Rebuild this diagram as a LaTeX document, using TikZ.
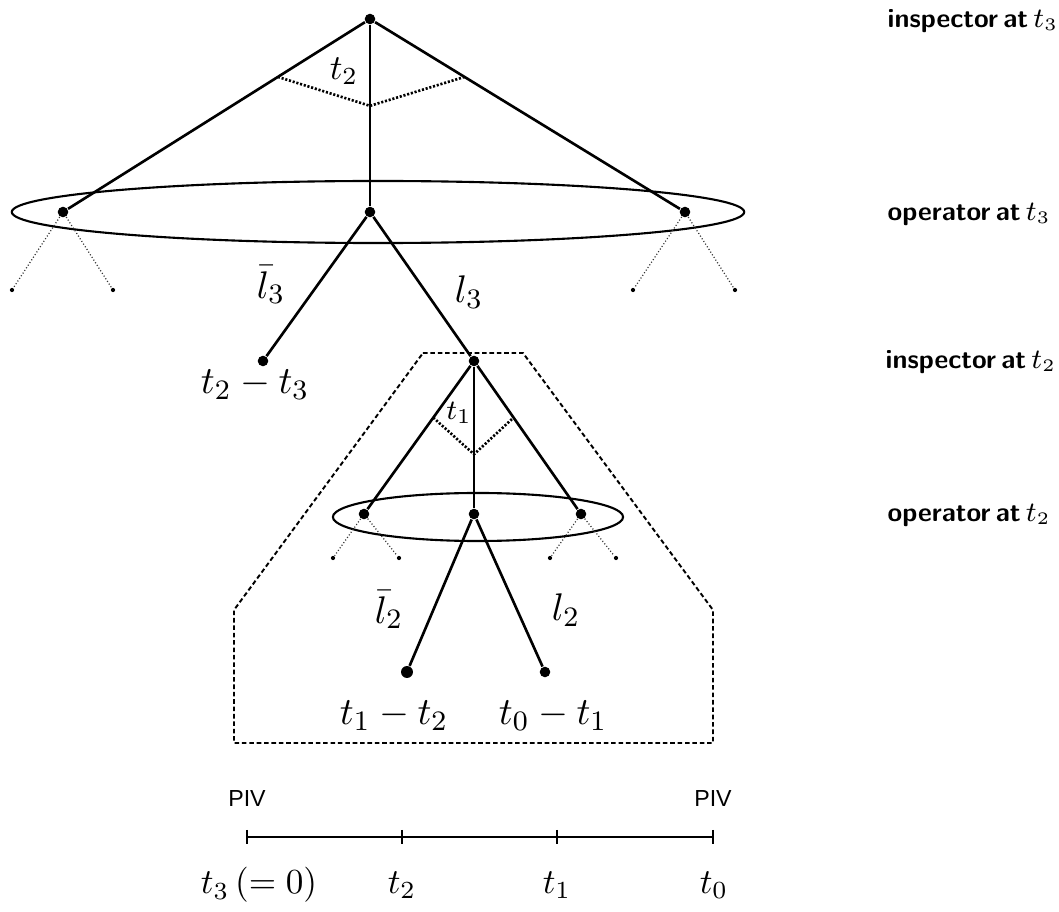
\documentclass[tikz,border=0pt]{standalone}
\usepackage{fontspec}
\newfontfamily\pivfont{Liberation Sans}
\usetikzlibrary{positioning,calc}

\begin{document}
\begin{tikzpicture}[
    x=0.01cm, y=-0.01cm,
    dot/.style={circle, fill, inner sep=0pt, minimum size=3pt},
    bigdot/.style={dot, minimum size=3.4pt},
    tinydot/.style={circle, fill, inner sep=0pt, minimum size=1.2pt},
    branch/.style={line width=0.75pt},
    twig/.style={line width=0.35pt, dash pattern=on 0.3pt off 0.6pt, black!80},
    infoset/.style={line width=0.6pt},
    angmark/.style={line width=0.75pt, dash pattern=on 0.6pt off 0.5pt},
    subgame/.style={line width=0.55pt, dash pattern=on 1.3pt off 0.8pt},
    role/.style={font={\sffamily\bfseries\fontsize{7.6}{9}\selectfont\spaceskip=0.2em\relax}, anchor=west, inner sep=0pt},
    piv/.style={font=\pivfont\fontsize{6.6}{8}\selectfont, inner sep=0pt},
    mlbl/.style={inner sep=0pt},
    tlbl/.style={inner sep=0pt, font=\fontsize{11.2}{13}\selectfont}
  ]
  \useasboundingbox (0,0) rectangle (1059,912);

  % inspector at t3
  \node[dot] (root) at (370,19) {};
  \node[dot] (opL) at (63,212) {};
  \node[dot] (opM) at (370,212) {};
  \node[dot] (opR) at (685,212) {};
  \draw[branch] (root) -- (opL);
  \draw[branch] (root) -- (opM);
  \draw[branch] (root) -- (opR);
  \draw[angmark] ($(root)!0.3!(opL)$) -- ($(root)!0.45!(opM)$) -- ($(root)!0.3!(opR)$);
  \node[mlbl] (tlabA) at (344,71) {$t_2$};

  % operator at t3
  \coordinate (bigset) at (378,212);
  \draw[infoset] (bigset) ellipse [x radius=3.66cm, y radius=0.31cm];
  \node[tinydot] (opLa) at (12,290) {};
  \node[tinydot] (opLb) at (113,290) {};
  \node[tinydot] (opRa) at (633,290) {};
  \node[tinydot] (opRb) at (735,290) {};
  \draw[twig] (opL) -- (opLa);
  \draw[twig] (opL) -- (opLb);
  \draw[twig] (opR) -- (opRa);
  \draw[twig] (opR) -- (opRb);

  \node[dot] (stop3) at (263,361) {};
  \node[dot] (insp2) at (474,361) {};
  \draw[branch] (opM) -- (stop3);
  \draw[branch] (opM) -- (insp2);
  \node[tlbl] (lb3) at (271,285) {$\bar{l}_3$};
  \node[tlbl] (l3) at (469,292) {$l_3$};
  \node[tlbl] (pay3) at (255,385) {$t_2-t_3$};

  % subgame from t2 on
  \draw[subgame] (423,353) -- (523,353) -- (713,610) -- (713,743)
    -- (234,743) -- (234,610) -- cycle;

  % inspector at t2
  \node[dot] (opL2) at (364,514) {};
  \node[dot] (opM2) at (474,514) {};
  \node[dot] (opR2) at (581,514) {};
  \draw[branch] (insp2) -- (opL2);
  \draw[branch] (insp2) -- (opM2);
  \draw[branch] (insp2) -- (opR2);
  \draw[angmark] ($(insp2)!0.37!(opL2)$) -- ($(insp2)!0.61!(opM2)$) -- ($(insp2)!0.37!(opR2)$);
  \node[mlbl, font=\footnotesize] (tlabB) at (459,413) {$t_1$};

  % operator at t2
  \coordinate (smallset) at (478,517);
  \draw[infoset] (smallset) ellipse [x radius=1.45cm, y radius=0.24cm];
  \node[tinydot] (opL2a) at (333,558) {};
  \node[tinydot] (opL2b) at (399,558) {};
  \node[tinydot] (opR2a) at (550,558) {};
  \node[tinydot] (opR2b) at (616,558) {};
  \draw[twig] (opL2) -- (opL2a);
  \draw[twig] (opL2) -- (opL2b);
  \draw[twig] (opR2) -- (opR2a);
  \draw[twig] (opR2) -- (opR2b);

  \node[bigdot] (stop2) at (407,672) {};
  \node[dot] (go2) at (545,672) {};
  \draw[branch] (opM2) -- (stop2);
  \draw[branch] (opM2) -- (go2);
  \node[tlbl] (lb2) at (389,610) {$\bar{l}_2$};
  \node[tlbl] (l2) at (566,610) {$l_2$};
  \node[tlbl] (pay2) at (394,716) {$t_1-t_2$};
  \node[tlbl] (pay1) at (553,716) {$t_0-t_1$};

  % roles
  \node[role] (r1) at (887,21) {inspector at $t_3$};
  \node[role] (r2) at (887,214) {operator at $t_3$};
  \node[role] (r3) at (885,362) {inspector at $t_2$};
  \node[role] (r4) at (887,515) {operator at $t_2$};

  % time axis
  \coordinate (p3) at (247,837);
  \coordinate (p2) at (402,837);
  \coordinate (p1) at (557,837);
  \coordinate (p0) at (713,837);
  \draw[branch] (p3) -- (p0);
  \foreach \p in {p3,p2,p1,p0}
    \draw[branch] ([yshift=0.07cm]\p) -- ([yshift=-0.07cm]\p);
  \node[piv, above=0.3cm of p3] (pivL) {PIV};
  \node[piv, above=0.3cm of p0] (pivR) {PIV};
  \node[mlbl] (t3) at (259,885) {$t_3\,(=0)$};
  \node[mlbl] (t2) at (402,885) {$t_2$};
  \node[mlbl] (t1) at (557,885) {$t_1$};
  \node[mlbl] (t0) at (714,885) {$t_0$};
\end{tikzpicture}
\end{document}
